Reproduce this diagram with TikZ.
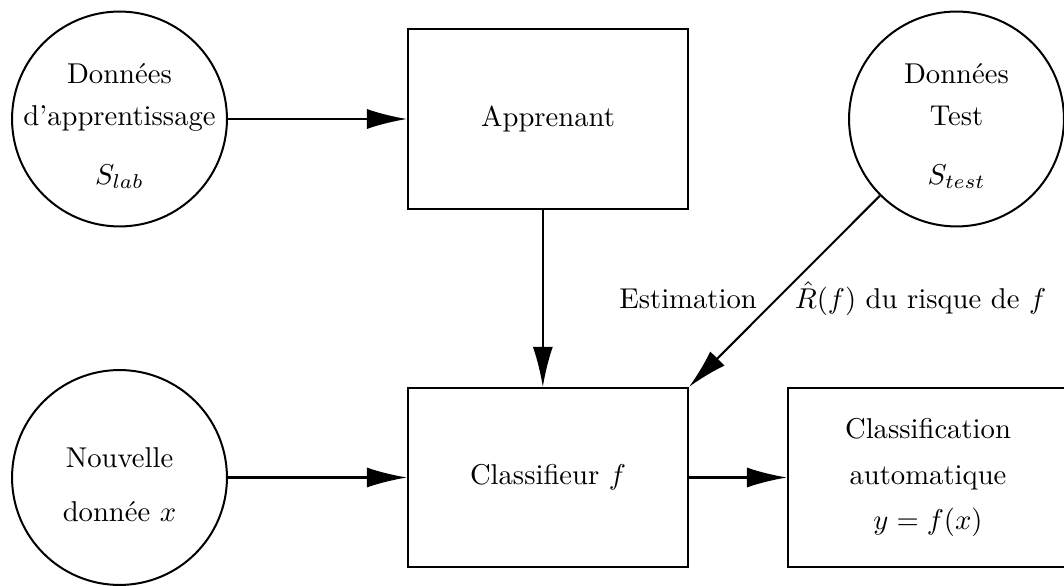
\documentclass[tikz,border=0pt]{standalone}
\usepackage{amsmath}
\usetikzlibrary{arrows.meta}

\begin{document}
\begin{tikzpicture}[x=0.349pt, y=0.349pt, line width=0.7pt,
		data/.style = {draw, circle, minimum size=75pt, inner sep=0pt},
		bloc/.style = {draw, rectangle, minimum width=97.7pt, minimum height=62.5pt, align=center},
		txt/.style = {align=center, yshift=-2.5pt},
		fleche/.style = {-{Latex[length=14pt, width=7pt]}}]
			\def\yh{467};
			\def\yb{108.5};
			\def\dx{1.8pt};

			\useasboundingbox (0,0) rectangle (1064,586);

			\begin{scope}
				\node[data, label={[txt]center:Données\\[2.5pt]d’apprentissage\\[8.5pt]$S_{lab}$}] (lab) at (119.5,\yh) {};
				\node[data, label={[txt]center:Données\\[2.5pt]Test\\[8.5pt]$S_{test}$}] (test) at (956.5,\yh) {};
				\node[data, label={[txt]center:Nouvelle\\[7pt]donnée $x$}] (nouv) at (119.5,\yb) {};
			\end{scope}

			\begin{scope}
				\node[bloc] (appr) at (548,\yh) {Apprenant};
				\node[bloc] (cls) at (548,\yb) {Classifieur $f$};
				\node[bloc] (out) at (928,\yb) {Classification\\[4pt]automatique\\[4pt]$y = f(x)$};
			\end{scope}

			\begin{scope}[fleche]
				\draw (lab) -- (appr);
				\draw ([xshift=-\dx]appr.south) -- ([xshift=-\dx]cls.north);
				\draw (nouv) -- (cls);
				\draw (cls) -- (out);
				\draw (test) -- (cls.north east)
					node[pos=0.54, anchor=east, xshift=-3.3pt] (estim) {Estimation}
					node[pos=0.54, anchor=west, xshift=2.6pt] (risque) {$\hat{R}(f)$ du risque de $f$};
			\end{scope}
		\end{tikzpicture}
\end{document}
